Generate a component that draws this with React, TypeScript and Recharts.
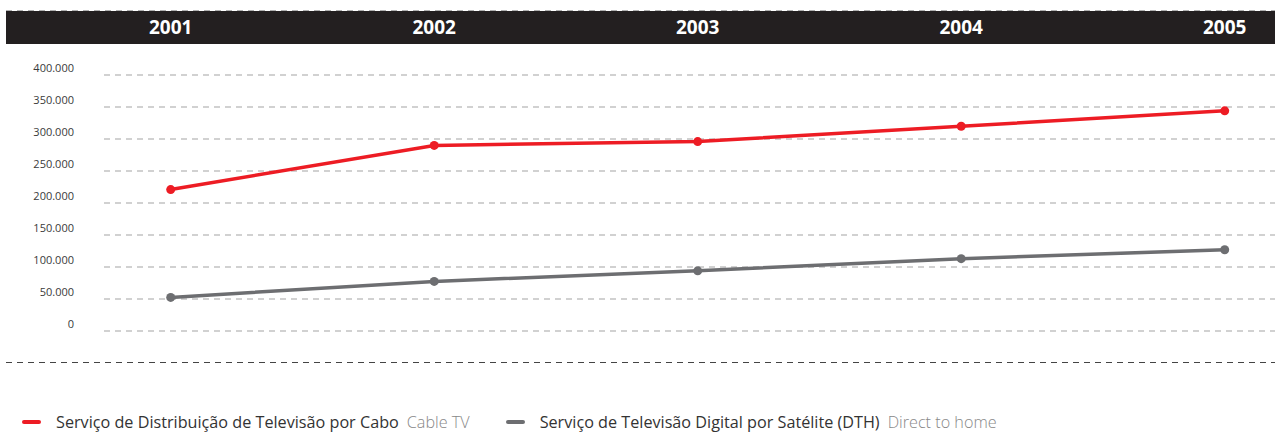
import React from 'react';
import { LineChart, Line, XAxis, YAxis, CartesianGrid } from 'recharts';

const years = ['2001', '2002', '2003', '2004', '2005'];
const cableTV = [221000, 290000, 296000, 320000, 344000];
const dth = [52500, 77500, 94000, 113000, 127000];
const yTicks = [0, 50000, 100000, 150000, 200000, 250000, 300000, 350000, 400000];

const seriesInfo = [
  { key: 'cable', name: 'Serviço de Distribuição de Televisão por Cabo', sub: 'Cable TV', color: '#ed1c24' },
  { key: 'dth', name: 'Serviço de Televisão Digital por Satélite (DTH)', sub: 'Direct to home', color: '#6d6e71' },
];

const data = years.map((y, i) => ({ year: y, cable: cableTV[i], dth: dth[i] }));

const fmt = (v: number) => (v === 0 ? '0' : v.toLocaleString('de-DE'));

const YTick = (props: any) => {
  const { y, payload } = props;
  return (
    <text x={74} y={y - 3} textAnchor="end" fontSize={11} fill="#3a3a3a" fontFamily="'Open Sans', sans-serif">
      {fmt(payload.value)}
    </text>
  );
};

const XTick = (props: any) => {
  const { x, payload } = props;
  return (
    <text x={x} y={34.3} textAnchor="middle" fontSize={19} fontWeight={700} fill="#ffffff" fontFamily="'Open Sans', sans-serif">
      {payload.value}
    </text>
  );
};

const LegendBox = () => (
  <div style={{ position: 'absolute', left: 0, top: 411, width: 1275, display: 'flex', alignItems: 'center', fontFamily: "'Open Sans', sans-serif", fontSize: 16.2, lineHeight: '22px', whiteSpace: 'nowrap' }}>
    {seriesInfo.map((s, i) => (
      <div key={s.key} style={{ display: 'flex', alignItems: 'center', marginLeft: i === 0 ? 22 : 36 }}>
        <span style={{ display: 'inline-block', width: 19, height: 4, borderRadius: 2, background: s.color, marginRight: 15 }} />
        <span style={{ color: '#333' }}>{s.name}</span>
        <span style={{ color: '#888', fontWeight: 300, marginLeft: 8 }}>{s.sub}</span>
      </div>
    ))}
  </div>
);

export default function App() {
  return (
    <div style={{ position: 'absolute', left: 0, top: 0, width: 1275, height: 432, background: '#fff' }}>
      <LineChart width={1275} height={432} data={data} margin={{ top: 45, right: 0, bottom: 101, left: 0 }}>
        <line x1={6} x2={1275} y1={10.5} y2={10.5} stroke="#b0b0b0" strokeDasharray="6 5" />
        <rect x={6} y={11} width={1269} height={33} fill="#231f20" />
        <line x1={6} x2={1275} y1={362.5} y2={362.5} stroke="#444" strokeDasharray="6 5" />
        <CartesianGrid vertical={false} stroke="#a3a3a3" strokeDasharray="6 5" />
        <XAxis
          dataKey="year"
          orientation="top"
          height={30}
          axisLine={false}
          tickLine={false}
          tick={<XTick />}
          padding={{ left: 66.7, right: 50.3 }}
          interval={0}
        />
        <YAxis
          width={104}
          domain={[0, 400000]}
          ticks={yTicks}
          axisLine={false}
          tickLine={false}
          tick={<YTick />}
          interval={0}
        />
        <Line
          dataKey="cable"
          name={seriesInfo[0].name}
          stroke="#ed1c24"
          strokeWidth={3.5}
          dot={{ r: 4.5, fill: '#ed1c24', stroke: 'none' }}
          activeDot={false}
          isAnimationActive={false}
        />
        <Line
          dataKey="dth"
          name={seriesInfo[1].name}
          stroke="#6d6e71"
          strokeWidth={3.5}
          dot={{ r: 4.5, fill: '#6d6e71', stroke: 'none' }}
          activeDot={false}
          isAnimationActive={false}
        />
      </LineChart>
      <LegendBox />
    </div>
  );
}
